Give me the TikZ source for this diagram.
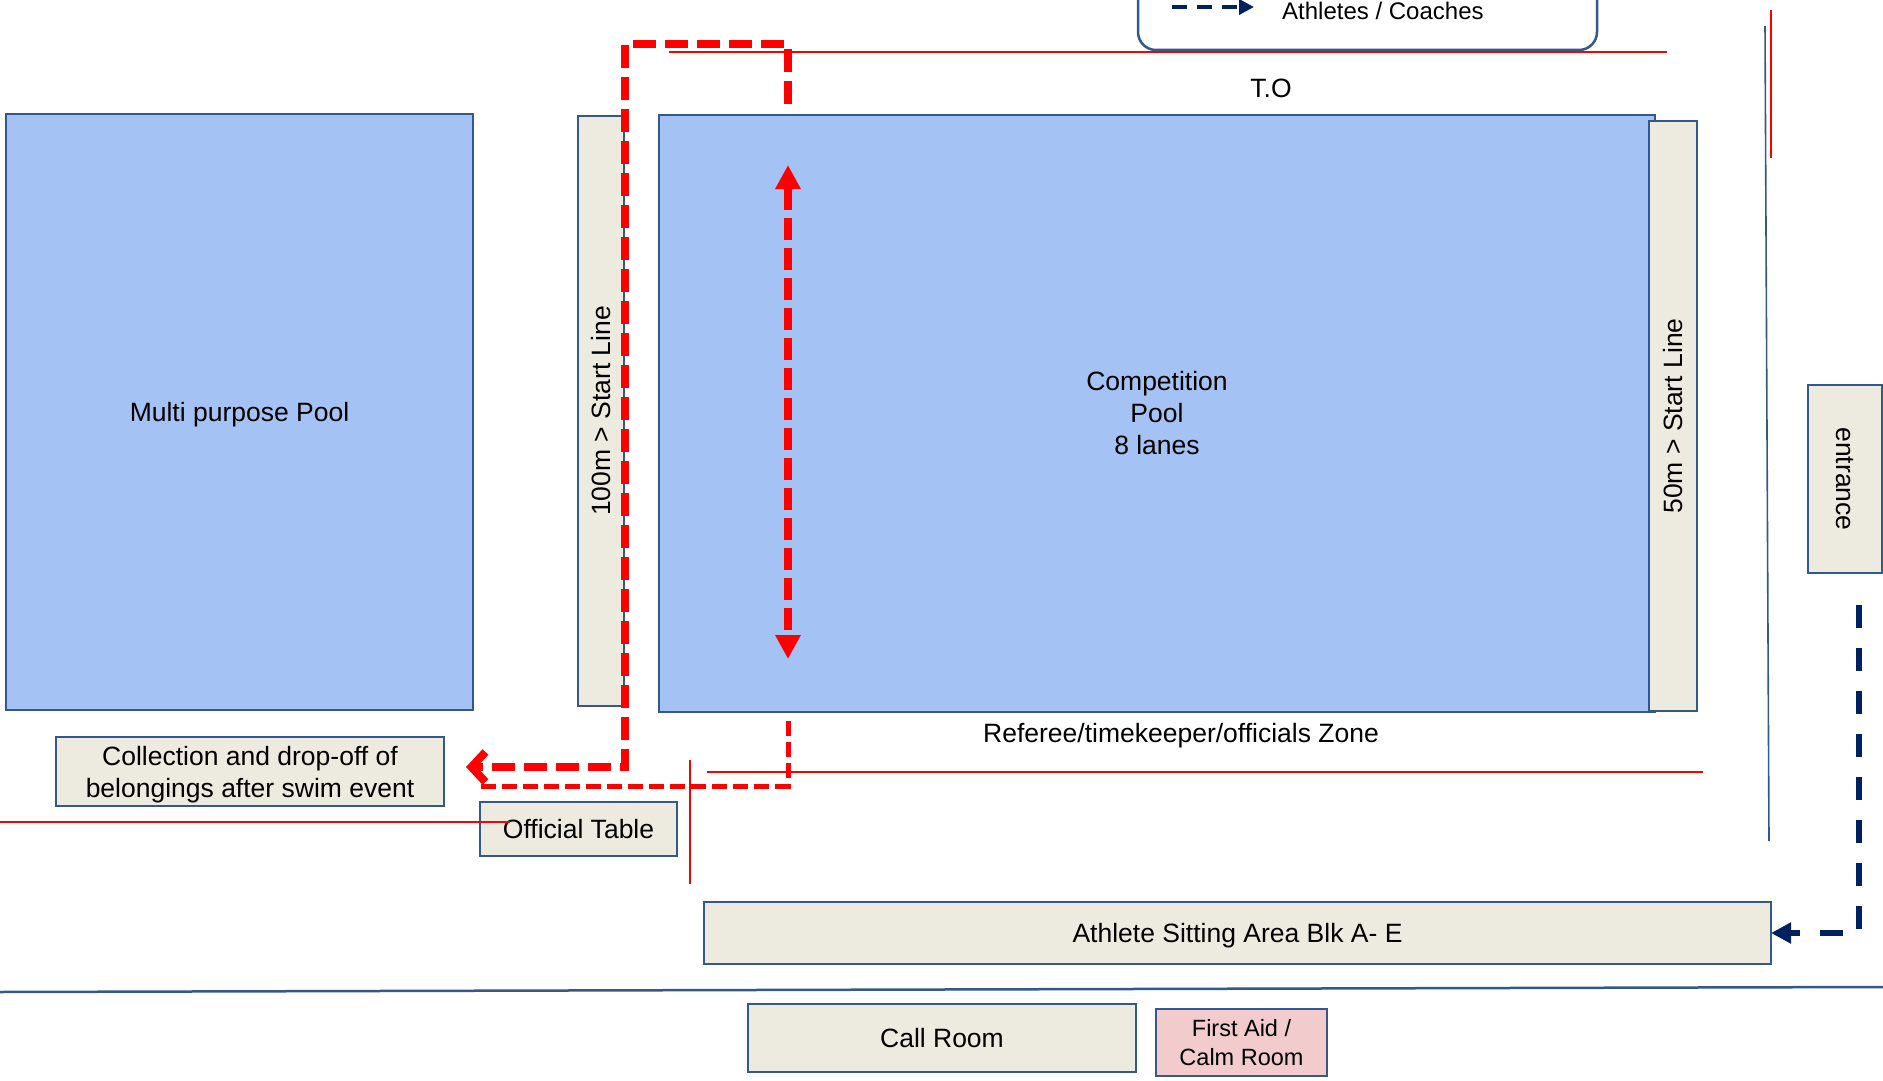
\documentclass[tikz,border=0pt]{standalone}
\usepackage{fontspec}
\setmainfont{Liberation Sans}
\usetikzlibrary{arrows.meta}
\definecolor{poolblue}{RGB}{164,194,244}
\definecolor{edgeblue}{RGB}{52,88,140}
\definecolor{beige}{RGB}{237,235,224}
\definecolor{pinkroom}{RGB}{242,203,204}
\definecolor{navy}{RGB}{0,32,96}
\definecolor{redline}{RGB}{255,0,0}
\newcommand{\lowertext}[1]{\raisebox{-3pt}[\height][\depth]{#1}}
\begin{document}
\begin{tikzpicture}[x=1pt,y=-1pt,
  basebox/.style={draw=edgeblue, line width=2pt, inner sep=0pt, outer sep=0pt, align=center,
                  font=\fontsize{26.5}{32}\selectfont},
  pool/.style={basebox, fill=poolblue},
  zonebox/.style={basebox, fill=beige},
  aidbox/.style={basebox, fill=pinkroom, font=\fontsize{23.5}{29}\selectfont},
  plain/.style={inner sep=0pt, font=\fontsize{26.5}{32}\selectfont},
  wall/.style={draw=edgeblue, line width=1.6pt},
  fence/.style={draw=redline, line width=2pt},
  route/.style={draw=redline, line width=8pt, dash pattern=on 23pt off 9pt},
  thinroute/.style={draw=redline, line width=5pt, dash pattern=on 15pt off 6pt},
  walkway/.style={draw=navy, line width=6pt, dash pattern=on 23pt off 20pt}
]
\useasboundingbox (0,0) rectangle (1883,1081);
\fill[white] (0,0) rectangle (1883,1081);
\begin{scope}
\clip (0,0) rectangle (1883,1081);

% legend
\draw[edgeblue, line width=2.5pt, rounded corners=18pt] (1138,-40) rectangle (1597,50);
\coordinate (lg1) at (1172,7);
\coordinate (lg2) at (1254,7);
\draw[navy, line width=4pt, dash pattern=on 15pt off 10pt, -{Triangle[length=15pt,width=15pt]}] (lg1) -- (lg2);
\node[plain, anchor=west, font=\fontsize{24}{29}\selectfont] (legtext) at (1282,11) {Athletes / Coaches};

% fences and walls
\coordinate (ft1) at (669,52);
\coordinate (ft2) at (1667,52);
\draw[fence] (ft1) -- (ft2);
\coordinate (fr1) at (1771,10);
\coordinate (fr2) at (1771,158);
\draw[fence] (fr1) -- (fr2);
\coordinate (wv1) at (1765,26);
\coordinate (wv2) at (1769,841);
\draw[wall] (wv1) -- (wv2);
\coordinate (wh1) at (0,992);
\coordinate (wh2) at (1883,987);
\draw[wall, line width=2.5pt] (wh1) -- (wh2);

\node[plain] (to) at (1271,88) {T.O};

% pools and start lines
\node[pool, minimum width=467, minimum height=596] (multi) at (239.5,412) {\lowertext{Multi purpose Pool}};
\node[zonebox, rotate=90, minimum width=590, minimum height=46] (start100) at (601,411) {100m > Start Line};
\node[pool, minimum width=996, minimum height=597] (comp) at (1157,413.5) {Competition\\Pool\\8 lanes};
\node[zonebox, rotate=90, minimum width=590, minimum height=48] (start50) at (1673,416) {50m > Start Line};
\node[zonebox, rotate=-90, minimum width=188, minimum height=74] (entrance) at (1845,479) {entrance};

% lower zone
\node[plain] (referee) at (1181,736) {Referee/timekeeper/officials Zone};
\coordinate (fz1) at (707,772);
\coordinate (fz2) at (1703,772);
\draw[fence] (fz1) -- (fz2);
\node[zonebox, minimum width=388, minimum height=69] (collect) at (250,771.5) {\lowertext{\parbox{380pt}{\centering Collection and drop-off of\\belongings after swim event}}};
\node[zonebox, minimum width=197, minimum height=54] (official) at (578.5,829) {Official Table};
\coordinate (fl1) at (0,822);
\coordinate (fl2) at (510,822);
\draw[fence] (fl1) -- (fl2);
\coordinate (fv1) at (690,760);
\coordinate (fv2) at (690,884);
\draw[fence] (fv1) -- (fv2);
\node[zonebox, minimum width=1067, minimum height=62] (athlete) at (1237.5,933) {\lowertext{Athlete Sitting Area Blk A- E}};
\node[zonebox, minimum width=388, minimum height=68] (callroom) at (942,1038) {Call Room};
\node[aidbox, minimum width=171, minimum height=67] (firstaid) at (1241.5,1042.5) {First Aid /\\Calm Room};

% routes
\coordinate (r1) at (788,104);
\coordinate (r2) at (788,44);
\coordinate (r3) at (625,44);
\coordinate (r4) at (625,767);
\coordinate (r5) at (466,767);
\draw[route, -{Straight Barb[length=14pt,width=30pt]}] (r1) -- (r2) -- (r3) -- (r4) -- (r5);
\coordinate (a1) at (788,165);
\coordinate (a2) at (788,659);
\draw[route, dash pattern=on 22pt off 8pt, {Triangle[length=24pt,width=24pt]}-{Triangle[length=24pt,width=24pt]}] (a1) -- (a2);
\coordinate (t1) at (788,721);
\coordinate (t2) at (788,786);
\coordinate (t3) at (480,786);
\draw[thinroute] (t1) -- (t2) -- (t3);
\coordinate (b1) at (1859,605);
\draw[walkway, -{Triangle[length=20pt,width=20pt]}] (b1) |- (athlete.east);
\end{scope}
\end{tikzpicture}
\end{document}
